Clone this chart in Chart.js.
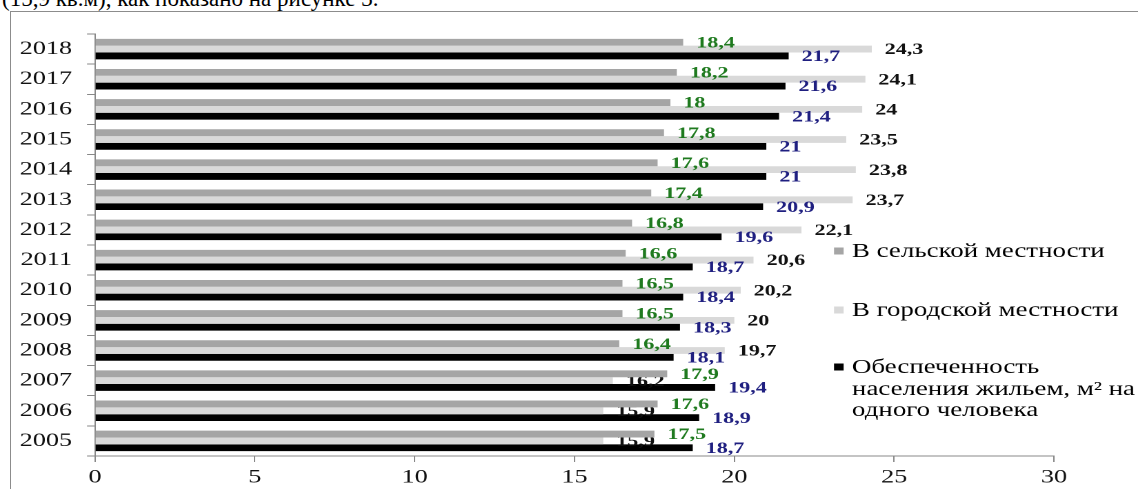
<!DOCTYPE html>
<html lang="ru">
<head>
<meta charset="utf-8">
<title>Обеспеченность населения жильем</title>
<script src="https://cdn.jsdelivr.net/npm/chart.js@4.4.1/dist/chart.umd.min.js"></script>
<style>
  html, body { margin: 0; padding: 0; background: #fff; overflow: hidden; }
  body { width: 1138px; height: 489px; position: relative; }
  #doc {
    position: absolute; left: 2px; top: -13px; white-space: nowrap;
    font-family: 'Liberation Serif', serif; font-size: 23px; line-height: 24px; color: #000;
  }
  #frame {
    position: absolute; left: 10px; top: 11px; right: -4px; bottom: -4px;
    border-left: 1.5px solid #8c8c8c; border-top: 1.5px solid #8c8c8c;
  }
  #wrap { position: absolute; left: 0; top: 0; transform-origin: 0 0; }
  canvas { display: block; }
</style>
</head>
<body>
<div id="doc">(15,9 кв.м), как показано на рисунке 3.</div>
<div id="frame"></div>
<div id="wrap"><canvas id="c"></canvas></div>
<script>
// Years, top to bottom
const categories = ['2018', '2017', '2016', '2015', '2014', '2013', '2012',
                    '2011', '2010', '2009', '2008', '2007', '2006', '2005'];
// Living space per person, m²
const rural = [18.4, 18.2, 18, 17.8, 17.6, 17.4, 16.8, 16.6, 16.5, 16.5, 16.4, 17.9, 17.6, 17.5];
const urban = [24.3, 24.1, 24, 23.5, 23.8, 23.7, 22.1, 20.6, 20.2, 20, 19.7, 16.2, 15.9, 15.9];
const total = [21.7, 21.6, 21.4, 21, 21, 20.9, 19.6, 18.7, 18.4, 18.3, 18.1, 19.4, 18.9, 18.7];
const xTicks = [0, 5, 10, 15, 20, 25, 30];

const seriesNames = ['В сельской местности', 'В городской местности',
                     'Обеспеченность населения жильем, м² на одного человека'];
const legendLines = [
  ['В сельской местности'],
  ['В городской местности'],
  ['Обеспеченность', 'населения жильем, м² на', 'одного человека']
];

// The drawing is laid out narrower and stretched horizontally
const STRETCH = 1.38;
const FULL_W = 1138, FULL_H = 489;
const W = Math.round(FULL_W / STRETCH);
const sx = FULL_W / W;
const X = v => v / sx;   // page x -> canvas x

const canvas = document.getElementById('c');
canvas.width = W; canvas.height = FULL_H;
const wrap = document.getElementById('wrap');
wrap.style.width = W + 'px'; wrap.style.height = FULL_H + 'px';
wrap.style.transform = 'scaleX(' + sx + ')';

const SERIF = "'Liberation Serif', serif";
const labelColors = ['#1f7a1f', '#111111', '#1f1f80'];
const fmt = v => String(v).replace('.', ',');

function drawLabels(chart, i) {
  const ctx = chart.ctx;
  const meta = chart.getDatasetMeta(i);
  const data = chart.data.datasets[i].data;
  ctx.save();
  ctx.font = 'bold 16px ' + SERIF;
  ctx.fillStyle = labelColors[i];
  ctx.textAlign = 'left';
  ctx.textBaseline = 'middle';
  meta.data.forEach((el, k) => {
    ctx.fillText(fmt(data[k]), el.x + X(13), el.y + 1);
  });
  ctx.restore();
}

const valueLabels = {
  id: 'valueLabels',
  afterDatasetDraw(chart, args) {
    // urban labels go under the rural bars drawn after them
    if (args.index === 1) drawLabels(chart, 1);
  },
  afterDatasetsDraw(chart) {
    drawLabels(chart, 0);
    drawLabels(chart, 2);
  }
};

const sideLegend = {
  id: 'sideLegend',
  afterDraw(chart) {
    const ctx = chart.ctx;
    const colors = chart.data.datasets.map(d => d.backgroundColor);
    const rows = [[251], [310], [367, 389, 410]];
    ctx.save();
    ctx.font = '19.5px ' + SERIF;
    ctx.textBaseline = 'middle';
    legendLines.forEach((lines, i) => {
      ctx.fillStyle = colors[i];
      ctx.fillRect(X(834), rows[i][0] - 3.5, 7, 7);
      ctx.fillStyle = '#000';
      lines.forEach((t, j) => ctx.fillText(t, X(852), rows[i][j] + 1));
    });
    ctx.restore();
  }
};

const axisGray = '#888888';

new Chart(canvas, {
  type: 'bar',
  data: {
    labels: categories,
    datasets: [
      { label: seriesNames[0], data: rural, backgroundColor: '#a5a5a5' },
      { label: seriesNames[1], data: urban, backgroundColor: '#d9d9d9' },
      { label: seriesNames[2], data: total, backgroundColor: '#000000' }
    ]
  },
  options: {
    indexAxis: 'y',
    responsive: false,
    animation: false,
    devicePixelRatio: 2,
    categoryPercentage: 0.68,
    barPercentage: 1.0,
    layout: { padding: { left: 0, right: W - X(1054), top: 34, bottom: 0 } },
    plugins: { legend: { display: false }, tooltip: { enabled: false } },
    scales: {
      x: {
        min: 0, max: 30,
        afterBuildTicks(s) { s.ticks = xTicks.map(v => ({ value: v })); },
        afterFit(s) { s.height = FULL_H - 456; },
        grid: { drawOnChartArea: false, tickLength: 6, color: axisGray, tickColor: axisGray },
        border: { color: axisGray, width: 1 },
        ticks: { color: '#111', padding: 4, font: { family: SERIF, size: 19 } }
      },
      y: {
        afterFit(s) { s.width = X(95); },
        grid: { drawOnChartArea: false, tickLength: X(8), color: axisGray, tickColor: axisGray },
        border: { color: axisGray, width: 1 },
        ticks: { color: '#111', padding: X(15), font: { family: SERIF, size: 19 } }
      }
    }
  },
  plugins: [valueLabels, sideLegend]
});
</script>
</body>
</html>
